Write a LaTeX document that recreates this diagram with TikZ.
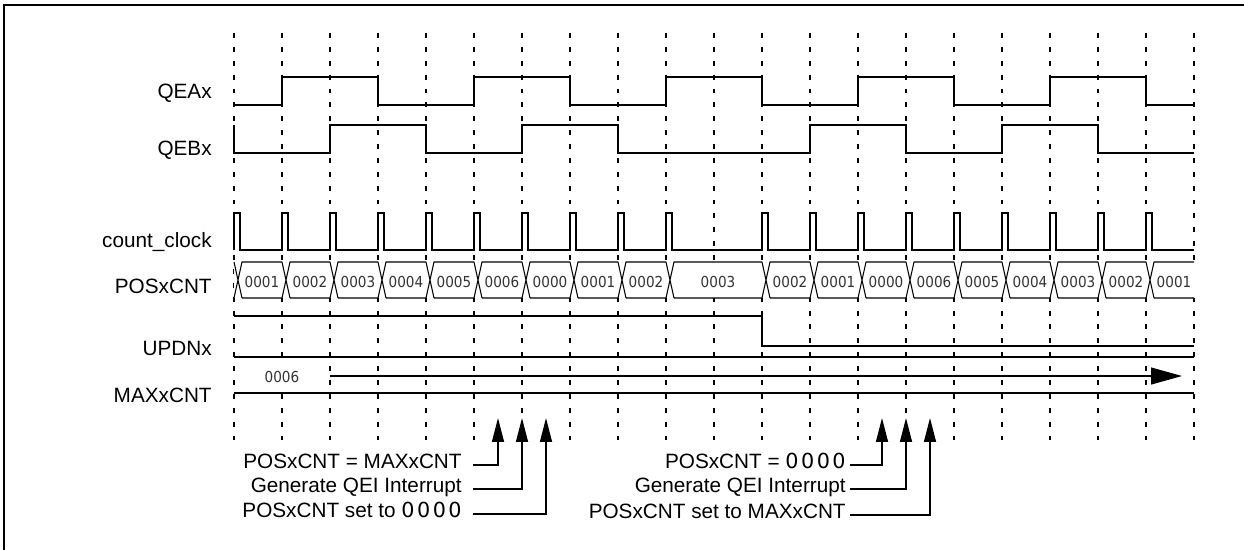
\documentclass[tikz,border=0pt]{standalone}
\usepackage{fontspec}
\setmainfont{Liberation Sans}
\newfontfamily\digf[FakeStretch=0.9]{DejaVu Sans}
\newfontfamily\digw[LetterSpace=12]{DejaVu Sans}
\usetikzlibrary{arrows.meta}

\begin{document}
\begin{tikzpicture}[
      x=0.02cm, y=-0.02cm,
      sig/.style={line width=0.85pt},
      gridline/.style={line width=1.1pt, dash pattern=on 2.8pt off 5.1pt},
      bus/.style={line width=0.6pt},
      lbl/.style={font=\fontsize{11.8}{14}\selectfont, anchor=base east, inner sep=0pt},
      ann/.style={font=\fontsize{11.8}{14}\selectfont, anchor=base east, inner sep=0pt},
      val/.style={font=\digf\fontsize{8.6}{10}\selectfont, text=black!80, inner sep=1pt},
      uparr/.style={-{Triangle[length=13.6pt, width=6.8pt]}, line width=0.85pt}
    ]
      \useasboundingbox (0,0) rectangle (1244,549);
      \clip (0,0) rectangle (1244,549);
      \draw[line width=1.1pt] (4,560) -- (4,5) -- (1260,5);

      % time grid
      \foreach \x in {234,282,...,1194}
        \draw[gridline] (\x,33) -- (\x,442);

      \node[lbl] (qea) at (212,98) {QEAx};
      \node[lbl] (qeb) at (212,155) {QEBx};
      \node[lbl] (clk) at (212,247) {count\_clock};
      \node[lbl] (pos) at (212,293) {POSxCNT};
      \node[lbl] (upd) at (212,355) {UPDNx};
      \node[lbl] (max) at (212,402) {MAXxCNT};

      \draw[sig] (234,105) -- (282,105) -- (282,77) -- (378,77) -- (378,105) -- (474,105) -- (474,77)
        -- (570,77) -- (570,105) -- (666,105) -- (666,77) -- (762,77) -- (762,105) -- (858,105)
        -- (858,77) -- (954,77) -- (954,105) -- (1050,105) -- (1050,77) -- (1146,77) -- (1146,105) -- (1194,105);
      \draw[sig] (234,125) -- (234,153) -- (330,153) -- (330,125) -- (426,125) -- (426,153) -- (522,153)
        -- (522,125) -- (618,125) -- (618,153) -- (810,153) -- (810,125) -- (906,125) -- (906,153)
        -- (1002,153) -- (1002,125) -- (1098,125) -- (1098,153) -- (1194,153);

      % count clock, no pulse at 714
      \draw[sig] (234,250) \foreach \x in {234,282,...,666,762,810,...,1146} {
        -- (\x,250) -- (\x,213) -- (\x+6,213) -- (\x+6,250) } -- (1194,250);

      % position counter
      \fill[white] (234,262) rectangle (1195,298);
      \foreach \a/\b/\v in {234/282/0001, 282/330/0002, 330/378/0003, 378/426/0004, 426/474/0005,
          474/522/0006, 522/570/0000, 570/618/0001, 618/666/0002, 666/762/0003, 762/810/0002,
          810/858/0001, 858/906/0000, 906/954/0006, 954/1002/0005, 1002/1050/0004, 1050/1098/0003,
          1098/1146/0002, 1146/1194/0001} {
        \draw[bus] (\a,262) -- (\a+8,298) (\a,298) -- (\a+8,262) -- (\b,262) (\a+8,298) -- (\b,298);
        \node[val] (p\a) at ({(\a+8+\b)/2},282) {\v};
      }

      \draw[sig] (234,316) -- (762,316) -- (762,346) -- (1194,346);
      \fill[white] (250,362) rectangle (320,392);
      \draw[sig] (234,357) -- (1194,357);
      \draw[sig] (234,393) -- (1194,393);
      \node[val] (m0) at (282,377) {0006};
      \draw[sig, -{Triangle[length=17.6pt, width=9.6pt]}] (330,376) -- (1182,376);

      \coordinate (u1) at (498,418);
      \coordinate (u2) at (522,418);
      \coordinate (u3) at (546,418);
      \coordinate (d1) at (882,418);
      \coordinate (d2) at (906,418);
      \coordinate (d3) at (930,418);

      \node[ann] (t1) at (462,468) {POSxCNT = MAXxCNT};
      \node[ann] (t2) at (462,492) {Generate QEI Interrupt};
      \node[ann] (t3) at (462,517) {POSxCNT set to {\digw 0000}};
      \node[ann] (s1) at (846,468) {POSxCNT = {\digw 0000}};
      \node[ann] (s2) at (846,492) {Generate QEI Interrupt};
      \node[ann] (s3) at (846,518) {POSxCNT set to MAXxCNT};

      \draw[uparr] ([shift={(6.2pt,1.7pt)}]t1.base east) -| (u1);
      \draw[uparr] ([shift={(6.2pt,1.7pt)}]t2.base east) -| (u2);
      \draw[uparr] ([shift={(6.2pt,1.7pt)}]t3.base east) -| (u3);
      \draw[uparr] ([shift={(2.3pt,1.7pt)}]s1.base east) -| (d1);
      \draw[uparr] ([shift={(2.3pt,1.7pt)}]s2.base east) -| (d2);
      \draw[uparr] ([shift={(2.3pt,1.7pt)}]s3.base east) -| (d3);
    \end{tikzpicture}
\end{document}
